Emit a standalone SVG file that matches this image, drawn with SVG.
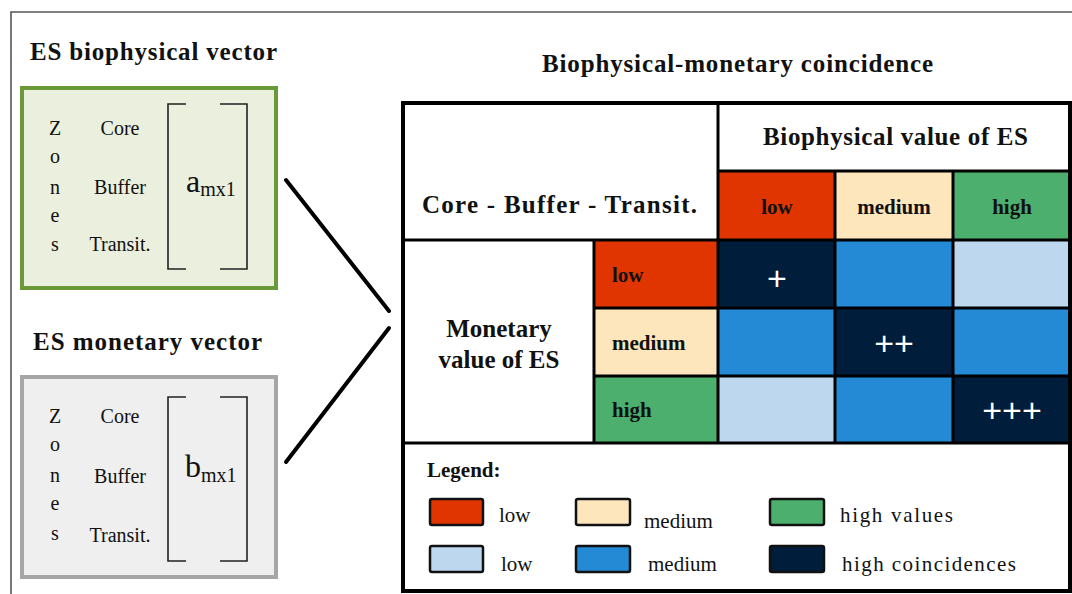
<svg xmlns="http://www.w3.org/2000/svg" width="1072" height="594" viewBox="0 0 1072 594" font-family="Liberation Serif, serif">
<style>
text{font-family:"Liberation Serif","Times New Roman",serif}
.t{fill:#111}
.b{font-weight:bold}
.h{font-size:25px}
.c{font-size:21px}
.z{font-size:20px}
.lg{font-size:21px}
text.plus{font-family:"Liberation Sans",Arial,sans-serif;font-size:34px;fill:#fff}
.grid{stroke:#000;stroke-width:3;fill:none}
.sw{stroke:#111;stroke-width:2.5}
.br{stroke:#222;stroke-width:1.6;fill:none}
.red{fill:#E03500}.cream{fill:#FDE6BC}.green{fill:#4CAF6E}
.lb{fill:#BDD7EE}.mb{fill:#258AD6}.nv{fill:#001E3B}
</style>
<rect width="1072" height="594" fill="#fff"/>
<path d="M11,594 V12 H1072" fill="none" stroke="#555" stroke-width="1.6"/>

<g id="bio-vector">
<text class="t b h" x="30" y="60" textLength="247">ES biophysical vector</text>
<rect x="22" y="88" width="254" height="200" fill="#EBEFDE" stroke="#6A9A37" stroke-width="4"/>
<g class="t z" text-anchor="middle">
<text x="55" y="135">Z</text><text x="55" y="163">o</text><text x="55" y="194">n</text><text x="55" y="222">e</text><text x="55" y="251">s</text>
<text x="120" y="135">Core</text><text x="120" y="194">Buffer</text><text x="120" y="251">Transit.</text>
</g>
<path class="br" d="M186,104 H168 V269 H186 M220,104 H247 V269 H220"/>
<text class="t" x="186" y="192" font-size="32">a<tspan font-size="20" dy="4">mx1</tspan></text>
</g>

<g id="mon-vector">
<text class="t b h" x="33" y="350" textLength="229">ES monetary vector</text>
<rect x="22" y="377" width="254" height="200" fill="#EFEFEF" stroke="#A6A6A6" stroke-width="4"/>
<g class="t z" text-anchor="middle">
<text x="55" y="423">Z</text><text x="55" y="451">o</text><text x="55" y="482">n</text><text x="55" y="510">e</text><text x="55" y="540">s</text>
<text x="120" y="423">Core</text><text x="120" y="483">Buffer</text><text x="120" y="542">Transit.</text>
</g>
<path class="br" d="M186,397 H168 V561 H186 M220,397 H247 V561 H220"/>
<text class="t" x="185" y="477" font-size="32">b<tspan font-size="20" dy="5">mx1</tspan></text>
</g>

<g id="connectors" stroke="#000" stroke-width="4" stroke-linecap="round">
<line x1="286" y1="180" x2="389" y2="311"/>
<line x1="389" y1="328" x2="286" y2="462"/>
</g>

<g id="coincidence-table">
<text class="t b h" x="542" y="72" textLength="391">Biophysical-monetary coincidence</text>
<rect x="403" y="103" width="667" height="488" fill="#fff"/>
<rect class="red" x="718" y="171" width="117" height="69"/>
<rect class="cream" x="835" y="171" width="118" height="69"/>
<rect class="green" x="953" y="171" width="117" height="69"/>
<rect class="red" x="594" y="240" width="124" height="68"/>
<rect class="cream" x="594" y="308" width="124" height="68"/>
<rect class="green" x="594" y="376" width="124" height="67"/>
<rect class="nv" x="718" y="240" width="117" height="68"/>
<rect class="mb" x="835" y="240" width="118" height="68"/>
<rect class="lb" x="953" y="240" width="117" height="68"/>
<rect class="mb" x="718" y="308" width="117" height="68"/>
<rect class="nv" x="835" y="308" width="118" height="68"/>
<rect class="mb" x="953" y="308" width="117" height="68"/>
<rect class="lb" x="718" y="376" width="117" height="67"/>
<rect class="mb" x="835" y="376" width="118" height="67"/>
<rect class="nv" x="953" y="376" width="117" height="67"/>
<path class="grid" d="M718,103 V443 M835,171 V443 M953,171 V443 M594,240 V443 M718,171 H1070 M403,240 H1070 M594,308 H1070 M594,376 H1070 M403,443 H1070"/>
<rect x="403" y="103" width="667" height="488" fill="none" stroke="#000" stroke-width="4"/>
<text class="t b h" x="422" y="213" textLength="275">Core - Buffer - Transit.</text>
<text class="t b h" x="763" y="145" textLength="265">Biophysical value of ES</text>
<g class="t b c" text-anchor="middle">
<text x="777" y="214">low</text><text x="894" y="214">medium</text><text x="1012" y="214">high</text>
</g>
<g class="t b c">
<text x="612" y="282">low</text><text x="612" y="350">medium</text><text x="612" y="417">high</text>
</g>
<text class="t b h" x="499" y="337" text-anchor="middle" font-size="26">Monetary</text>
<text class="t b h" x="499" y="368" text-anchor="middle" font-size="26">value of ES</text>
<g text-anchor="middle">
<text class="plus" x="777" y="290">+</text><text class="plus" x="894" y="355">++</text><text class="plus" x="1012" y="422">+++</text>
</g>
</g>

<g id="legend">
<text class="t b lg" x="427" y="477">Legend:</text>
<rect class="red sw" x="430" y="499" width="53" height="26" rx="2"/>
<rect class="cream sw" x="576" y="499" width="54" height="26" rx="2"/>
<rect class="green sw" x="770" y="499" width="54" height="26" rx="2"/>
<rect class="lb sw" x="430" y="546" width="53" height="26" rx="2"/>
<rect class="mb sw" x="576" y="546" width="54" height="26" rx="2"/>
<rect class="nv sw" x="770" y="546" width="54" height="26" rx="2"/>
<g class="t lg">
<text x="499" y="522">low</text><text x="644" y="528">medium</text><text x="840" y="522" textLength="113">high values</text>
<text x="501" y="571">low</text><text x="648" y="571">medium</text><text x="842" y="571" textLength="174">high coincidences</text>
</g>
</g>
</svg>
